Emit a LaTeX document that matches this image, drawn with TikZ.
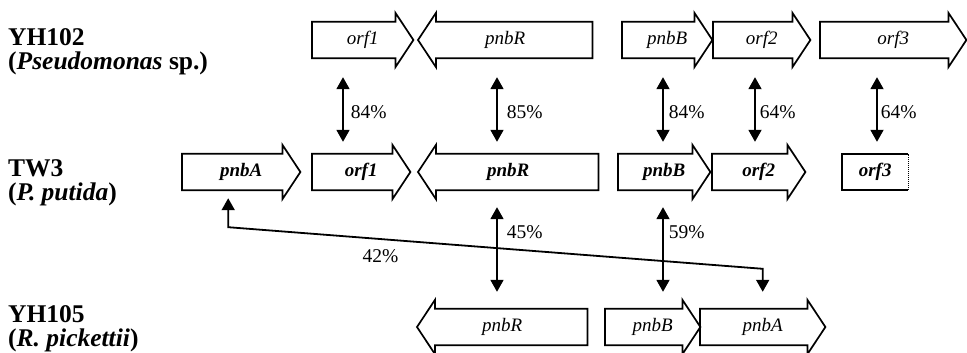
\documentclass[tikz,border=0pt]{standalone}
\usepackage{fontspec}
\setmainfont{Liberation Serif}
\usetikzlibrary{arrows.meta}
\tikzset{
  geneline/.style={line width=1.7pt, line join=miter},
  genetext/.style={font=\fontsize{19}{21}\selectfont\itshape},
  tw3text/.style={font=\fontsize{19}{21}\selectfont\bfseries\itshape},
  fwdgene/.style={
    rectangle, inner sep=0pt, minimum height=36pt, anchor=west,
    append after command={\pgfextra{
      \draw[geneline] (\tikzlastnode.north west)
        -- ([xshift=-18pt]\tikzlastnode.north east)
        -- ([xshift=-18pt,yshift=9pt]\tikzlastnode.north east)
        -- (\tikzlastnode.east)
        -- ([xshift=-18pt,yshift=-9pt]\tikzlastnode.south east)
        -- ([xshift=-18pt]\tikzlastnode.south east)
        -- (\tikzlastnode.south west) -- cycle;
    }}
  },
  revgene/.style={
    rectangle, inner sep=0pt, minimum height=36pt, anchor=west,
    append after command={\pgfextra{
      \draw[geneline] (\tikzlastnode.north east)
        -- ([xshift=18pt]\tikzlastnode.north west)
        -- ([xshift=18pt,yshift=9pt]\tikzlastnode.north west)
        -- (\tikzlastnode.west)
        -- ([xshift=18pt,yshift=-9pt]\tikzlastnode.south west)
        -- ([xshift=18pt]\tikzlastnode.south west)
        -- (\tikzlastnode.south east) -- cycle;
    }}
  },
  cutgene/.style={
    rectangle, inner sep=0pt, minimum height=36pt, anchor=west,
    append after command={\pgfextra{
      \draw[geneline] (\tikzlastnode.north east) -- (\tikzlastnode.north west)
        -- (\tikzlastnode.south west) -- (\tikzlastnode.south east);
      \draw[geneline, line width=1pt, densely dotted]
        (\tikzlastnode.south east) -- (\tikzlastnode.north east);
    }}
  },
  strain/.style={
    anchor=west, align=left, inner sep=0pt,
    font=\fontsize{25.5}{24}\selectfont\bfseries
  },
  homol/.style={<->, >={Triangle[length=12pt,width=13pt]}, line width=1.8pt},
  pct/.style={font=\fontsize{19.5}{21}\selectfont, inner sep=0pt},
}

\begin{document}
\begin{tikzpicture}[x=1pt, y=-1pt]
  \useasboundingbox (0,0) rectangle (967,353);

  % Strains
  \node[strain] (sYH102) at (8,52) {YH102\\(\textit{Pseudomonas} sp.)};
  \node[strain] (sTW3) at (8,183) {TW3\\(\textit{P. putida})};
  \node[strain] (sYH105) at (8,329) {YH105\\(\textit{R. pickettii})};

  % ---- YH102 ----
  \node[fwdgene, genetext, minimum width=101pt] (yOrf1) at (312,40) {orf1};
  \node[revgene, genetext, minimum width=174pt] (yPnbR) at (418,40) {pnbR};
  \node[fwdgene, genetext, minimum width=90pt] (yPnbB) at (622,40) {pnbB};
  \node[fwdgene, genetext, minimum width=97pt] (yOrf2) at (713,40) {orf2};
  \node[fwdgene, genetext, minimum width=146pt] (yOrf3) at (820,40) {orf3};

  % ---- TW3 ----
  \node[fwdgene, tw3text, minimum width=118pt] (tPnbA) at (182,172) {pnbA};
  \node[fwdgene, tw3text, minimum width=98pt] (tOrf1) at (312,172) {orf1};
  \node[revgene, tw3text, minimum width=180pt] (tPnbR) at (418,172) {pnbR};
  \node[fwdgene, tw3text, minimum width=92pt] (tPnbB) at (618,172) {pnbB};
  \node[fwdgene, tw3text, minimum width=93pt] (tOrf2) at (712,172) {orf2};
  \node[cutgene, tw3text, minimum width=66pt] (tOrf3) at (842,172) {orf3};

  % ---- YH105 ----
  \node[revgene, genetext, minimum width=170pt] (rPnbR) at (417,327) {pnbR};
  \node[fwdgene, genetext, minimum width=95pt] (rPnbB) at (605,327) {pnbB};
  \node[fwdgene, genetext, minimum width=125pt] (rPnbA) at (700,327) {pnbA};

  % Identities YH102 / TW3
  \draw[homol, shorten <=19pt, shorten >=12pt] (yOrf1.south -| 343,0)
    -- node[pct, pos=0.56, right=7pt] {84\%} (tOrf1.north -| 343,0);
  \draw[homol, shorten <=19pt, shorten >=12pt] (yPnbR.south -| 497,0)
    -- node[pct, pos=0.56, right=9pt] {85\%} (tPnbR.north -| 497,0);
  \draw[homol, shorten <=19pt, shorten >=12pt] (yPnbB.south -| 663,0)
    -- node[pct, pos=0.56, right=5pt] {84\%} (tPnbB.north -| 663,0);
  \draw[homol, shorten <=19pt, shorten >=12pt] (yOrf2.south -| 755,0)
    -- node[pct, pos=0.56, right=4pt] {64\%} (tOrf2.north -| 755,0);
  \draw[homol, shorten <=19pt, shorten >=12pt] (yOrf3.south -| 877,0)
    -- node[pct, pos=0.56, right=3pt] {64\%} (tOrf3.north -| 877,0);

  % Identities TW3 / YH105
  \draw[homol, shorten <=17pt, shorten >=17pt] (tPnbR.south -| 497,0)
    -- node[pct, pos=0.35, right=9pt] {45\%} (rPnbR.north -| 497,0);
  \draw[homol, shorten <=17pt, shorten >=17pt] (tPnbB.south -| 663,0)
    -- node[pct, pos=0.35, right=5pt] {59\%} (rPnbB.north -| 663,0);
  \draw[homol] ([xshift=-13pt,yshift=-8pt]tPnbA.south) -- ++(0,29)
    -- node[pct, pos=0.285, below=10pt] {42\%} ([yshift=40pt]rPnbA.north)
    -- ([yshift=17pt]rPnbA.north);
\end{tikzpicture}
\end{document}
